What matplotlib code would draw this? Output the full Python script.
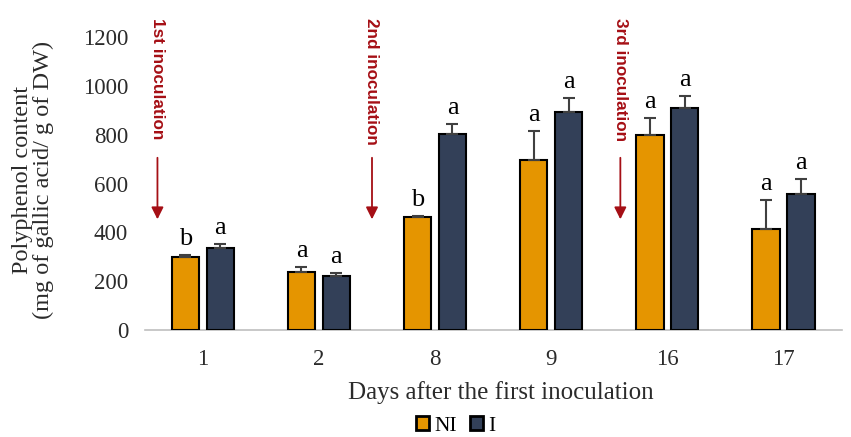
import matplotlib
matplotlib.use("Agg")
import matplotlib.pyplot as plt
import numpy as np

days = ["1", "2", "8", "9", "16", "17"]
ni_values = [300, 239, 462, 695, 798, 414]
ni_err = [8, 20, 5, 120, 70, 118]
i_values = [337, 222, 802, 894, 908, 556]
i_err = [15, 13, 43, 57, 51, 62]
ni_letters = ["b", "a", "b", "a", "a", "a"]
i_letters = ["a", "a", "a", "a", "a", "a"]
inoculations = ["1st inoculation", "2nd inoculation", "3rd inoculation"]
inoc_pos = [-0.39, 1.457, 3.595]

serif = ["Liberation Serif", "DejaVu Serif"]
c_ni = "#E59500"
c_i = "#334058"
c_red = "#A50F15"

fig = plt.figure(figsize=(8.51, 4.37), dpi=100)
ax = fig.add_axes([0.170, 0.245, 0.819, 0.670])
x = np.arange(len(days))
w = 0.235
off = 0.15
ekw = dict(ecolor="#404040", capsize=4, elinewidth=1.5, capthick=1.5)
ax.bar(x - off, ni_values, w, color=c_ni, edgecolor="black", linewidth=1.5,
       yerr=[np.zeros(6), ni_err], error_kw=ekw, label="NI", zorder=3)
ax.bar(x + off, i_values, w, color=c_i, edgecolor="black", linewidth=1.5,
       yerr=[np.zeros(6), i_err], error_kw=ekw, label="I", zorder=3)

for xi, v, e, l in zip(x - off, ni_values, ni_err, ni_letters):
    ax.text(xi, v + e + 40, l, ha="center", va="baseline", fontsize=19, family=serif)
for xi, v, e, l in zip(x + off, i_values, i_err, i_letters):
    ax.text(xi, v + e + 40, l, ha="center", va="baseline", fontsize=19, family=serif)

for p, t in zip(inoc_pos, inoculations):
    ax.text(p, 1278, t, rotation=270, ha="center", va="top", fontsize=12.3,
            fontweight="bold", color=c_red, family=["Liberation Sans", "DejaVu Sans"],
            clip_on=False)
    ax.annotate("", xy=(p, 442), xytext=(p, 717),
                arrowprops=dict(arrowstyle="-|>", color=c_red, lw=1.3, mutation_scale=18))

ax.set_xlim(-0.5, 5.5)
ax.set_ylim(0, 1200)
ax.set_yticks(np.arange(0, 1201, 200))
ax.set_xticks(x)
ax.set_xticklabels(days)
for s in ["top", "right", "left"]:
    ax.spines[s].set_visible(False)
ax.spines["bottom"].set_color("#BFBFBF")
ax.spines["bottom"].set_linewidth(1.2)
ax.tick_params(axis="y", length=0, pad=12)
ax.tick_params(axis="x", length=0, pad=14)
for lab in ax.get_xticklabels() + ax.get_yticklabels():
    lab.set_family(serif)
    lab.set_fontsize(16.5)
    lab.set_color("#2b2b2b")

fig.text(33 / 851, 0.588, "Polyphenol content\n(mg of gallic acid/ g of DW)", rotation=90,
         ha="center", va="center", fontsize=17.5, family=serif, linespacing=1.05, color="#2b2b2b")
fig.text(0.589, 0.1007, "Days after the first inoculation", ha="center", va="center",
         fontsize=18, family=serif, color="#2b2b2b")

leg = fig.legend(loc="center", bbox_to_anchor=(0.536, 0.025), ncol=2, frameon=False,
                 prop=dict(family=serif, size=15.5), handlelength=0.6, handleheight=0.6,
                 handletextpad=0.25, columnspacing=0.6, borderpad=0)
for h in leg.legend_handles:
    h.set_linewidth(2)

fig.savefig("out.png", dpi=100)
